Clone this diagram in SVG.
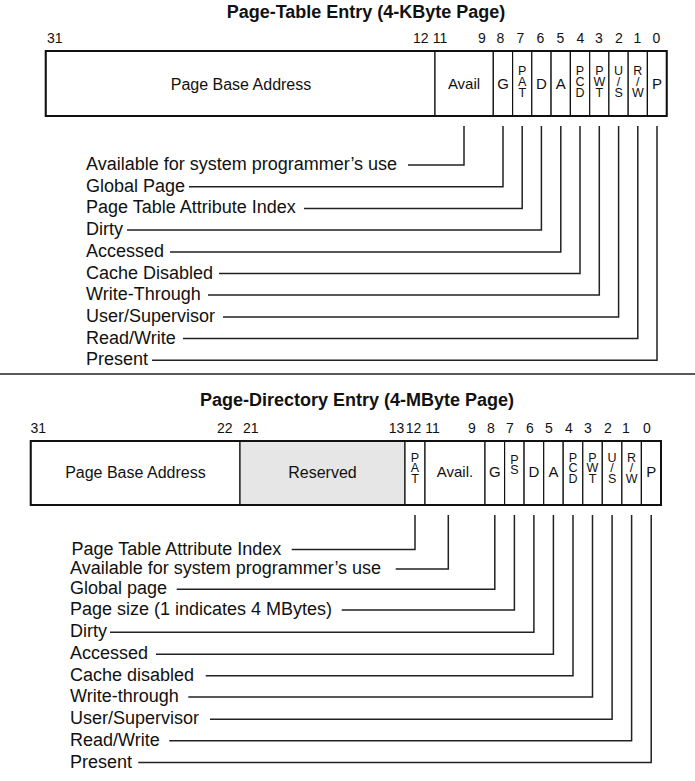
<svg xmlns="http://www.w3.org/2000/svg" width="695" height="781" viewBox="0 0 695 781">
<style>
text{font-family:"Liberation Sans",Arial,sans-serif;fill:#111}
.title{font-size:18px;font-weight:bold;text-anchor:middle}
.bit{font-size:14px;text-anchor:middle}
.f{font-size:16px;text-anchor:middle}
.s{font-size:15px;text-anchor:middle}
.st{font-size:12.5px;text-anchor:middle}
.lbl{font-size:18px}
.cell{fill:#fff;stroke:#111;stroke-width:1.2}
.res{fill:#e6e6e6}
.outer{fill:none;stroke:#111;stroke-width:2}
.con{fill:none;stroke:#222;stroke-width:1.5}
.sep{stroke:#222;stroke-width:1.5}
</style>
<rect width="695" height="781" fill="#fff"/>

<!-- ===== Page-Table Entry ===== -->
<g id="pte">
<text class="title" x="366" y="18">Page-Table Entry (4-KByte Page)</text>
<g id="pte-bits" class="bit">
<text x="54.8" y="43">31</text><text x="420.8" y="43">12</text><text x="440" y="43">11</text>
<text x="481.8" y="43">9</text><text x="500.5" y="43">8</text><text x="520.5" y="43">7</text>
<text x="540.5" y="43">6</text><text x="560.5" y="43">5</text><text x="580.5" y="43">4</text>
<text x="598.8" y="43">3</text><text x="618.8" y="43">2</text><text x="637.5" y="43">1</text><text x="656.5" y="43">0</text>
</g>
<g id="pte-pba"><rect class="cell" x="45.7" y="51" width="389.3" height="65"/><text class="f" x="241" y="90">Page Base Address</text></g>
<g id="pte-avail"><rect class="cell" x="435" y="51" width="58.3" height="65"/><text class="s" x="464" y="89">Avail</text></g>
<g id="pte-g"><rect class="cell" x="493.3" y="51" width="19.3" height="65"/><text class="s" x="503" y="89">G</text></g>
<g id="pte-pat"><rect class="cell" x="512.6" y="51" width="19.2" height="65"/><text class="st" x="522.2" y="75">P</text><text class="st" x="522.2" y="86">A</text><text class="st" x="522.2" y="97">T</text></g>
<g id="pte-d"><rect class="cell" x="531.8" y="51" width="19.3" height="65"/><text class="s" x="541.4" y="89">D</text></g>
<g id="pte-a"><rect class="cell" x="551.1" y="51" width="19.3" height="65"/><text class="s" x="560.8" y="89">A</text></g>
<g id="pte-pcd"><rect class="cell" x="570.4" y="51" width="19.3" height="65"/><text class="st" x="580" y="75">P</text><text class="st" x="580" y="86">C</text><text class="st" x="580" y="97">D</text></g>
<g id="pte-pwt"><rect class="cell" x="589.7" y="51" width="19.2" height="65"/><text class="st" x="599.3" y="75">P</text><text class="st" x="599.3" y="86">W</text><text class="st" x="599.3" y="97">T</text></g>
<g id="pte-us"><rect class="cell" x="608.9" y="51" width="19.3" height="65"/><text class="st" x="618.6" y="75">U</text><text class="st" x="618.6" y="86">/</text><text class="st" x="618.6" y="97">S</text></g>
<g id="pte-rw"><rect class="cell" x="628.2" y="51" width="19.2" height="65"/><text class="st" x="637.8" y="75">R</text><text class="st" x="637.8" y="86">/</text><text class="st" x="637.8" y="97">W</text></g>
<g id="pte-p"><rect class="cell" x="647.4" y="51" width="19.3" height="65"/><text class="s" x="657" y="89">P</text></g>
<rect class="outer" x="45.7" y="51" width="621" height="65"/>
<g id="pte-labels" class="lbl">
<text x="86" y="170">Available for system programmer’s use</text>
<text x="86" y="191.7">Global Page</text>
<text x="86" y="213.4">Page Table Attribute Index</text>
<text x="86" y="235">Dirty</text>
<text x="86" y="257">Accessed</text>
<text x="86" y="278.5">Cache Disabled</text>
<text x="86" y="300">Write-Through</text>
<text x="86" y="322">User/Supervisor</text>
<text x="86" y="343.6">Read/Write</text>
<text x="86" y="365.3">Present</text>
</g>
</g>

<line class="sep" x1="0" y1="374" x2="695" y2="374"/>

<!-- ===== Page-Directory Entry ===== -->
<g id="pde">
<text class="title" x="357" y="406">Page-Directory Entry (4-MByte Page)</text>
<g id="pde-bits" class="bit">
<text x="38.3" y="433">31</text><text x="224.8" y="433">22</text><text x="250.8" y="433">21</text>
<text x="396.5" y="433">13</text><text x="413.5" y="433">12</text><text x="432.5" y="433">11</text>
<text x="472" y="433">9</text><text x="491" y="433">8</text><text x="509.8" y="433">7</text>
<text x="529.8" y="433">6</text><text x="548.8" y="433">5</text><text x="568.8" y="433">4</text>
<text x="587.8" y="433">3</text><text x="607.8" y="433">2</text><text x="626" y="433">1</text><text x="647" y="433">0</text>
</g>
<g id="pde-pba"><rect class="cell" x="30.7" y="441" width="209.3" height="64"/><text class="f" x="135.4" y="478">Page Base Address</text></g>
<g id="pde-res"><rect class="cell res" x="240" y="441" width="165" height="64"/><text class="f" x="322.5" y="478">Reserved</text></g>
<g id="pde-pat"><rect class="cell" x="405" y="441" width="20" height="64"/><text class="st" x="415" y="461.5">P</text><text class="st" x="415" y="472">A</text><text class="st" x="415" y="482.5">T</text></g>
<g id="pde-avail"><rect class="cell" x="425" y="441" width="60" height="64"/><text class="s" x="455" y="477">Avail.</text></g>
<g id="pde-g"><rect class="cell" x="485" y="441" width="19.6" height="64"/><text class="s" x="494.8" y="477">G</text></g>
<g id="pde-ps"><rect class="cell" x="504.6" y="441" width="19.5" height="64"/><text class="st" x="514.4" y="463.5">P</text><text class="st" x="514.4" y="474">S</text></g>
<g id="pde-d"><rect class="cell" x="524.1" y="441" width="19.6" height="64"/><text class="s" x="533.9" y="477">D</text></g>
<g id="pde-a"><rect class="cell" x="543.7" y="441" width="19.5" height="64"/><text class="s" x="553.4" y="477">A</text></g>
<g id="pde-pcd"><rect class="cell" x="563.2" y="441" width="19.6" height="64"/><text class="st" x="573" y="461.5">P</text><text class="st" x="573" y="472">C</text><text class="st" x="573" y="482.5">D</text></g>
<g id="pde-pwt"><rect class="cell" x="582.8" y="441" width="19.5" height="64"/><text class="st" x="592.5" y="461.5">P</text><text class="st" x="592.5" y="472">W</text><text class="st" x="592.5" y="482.5">T</text></g>
<g id="pde-us"><rect class="cell" x="602.3" y="441" width="19.6" height="64"/><text class="st" x="612.1" y="461.5">U</text><text class="st" x="612.1" y="472">/</text><text class="st" x="612.1" y="482.5">S</text></g>
<g id="pde-rw"><rect class="cell" x="621.9" y="441" width="19.5" height="64"/><text class="st" x="631.6" y="461.5">R</text><text class="st" x="631.6" y="472">/</text><text class="st" x="631.6" y="482.5">W</text></g>
<g id="pde-p"><rect class="cell" x="641.4" y="441" width="19.6" height="64"/><text class="s" x="651.2" y="477">P</text></g>
<rect class="outer" x="30.7" y="441" width="630.3" height="64"/>
<g id="pde-labels" class="lbl">
<text x="71.5" y="554.5">Page Table Attribute Index</text>
<text x="70" y="574">Available for system programmer’s use</text>
<text x="70" y="594.3">Global page</text>
<text x="70" y="615">Page size (1 indicates 4 MBytes)</text>
<text x="70" y="637.3">Dirty</text>
<text x="70" y="659.2">Accessed</text>
<text x="70" y="680.7">Cache disabled</text>
<text x="70" y="702">Write-through</text>
<text x="70" y="724.3">User/Supervisor</text>
<text x="70" y="745.8">Read/Write</text>
<text x="70" y="767.5">Present</text>
</g>
</g>

<g id="connectors" class="con">
<path d="M408,165H464V126"/>
<path d="M189,186.7H503V126"/>
<path d="M304,208.4H522.2V126"/>
<path d="M127,230H541.4V126"/>
<path d="M170,252H560.8V126"/>
<path d="M219,273.5H580V126"/>
<path d="M208,295H599.3V126"/>
<path d="M223,317H618.6V126"/>
<path d="M183,338.6H637.8V126"/>
<path d="M152,360.3H657V126"/>

<path d="M291.7,549.5H415V515"/>
<path d="M395.7,569H448.3V515"/>
<path d="M176.7,589.3H494.8V515"/>
<path d="M341.7,610H514.4V515"/>
<path d="M110,632.3H533.9V515"/>
<path d="M156,654.2H553.4V515"/>
<path d="M205.7,675.7H573V515"/>
<path d="M188.3,697H592.5V515"/>
<path d="M210,719.3H612.1V515"/>
<path d="M169.3,740.8H631.6V515"/>
<path d="M138.3,762.5H651.2V515"/>
</g>
</svg>
